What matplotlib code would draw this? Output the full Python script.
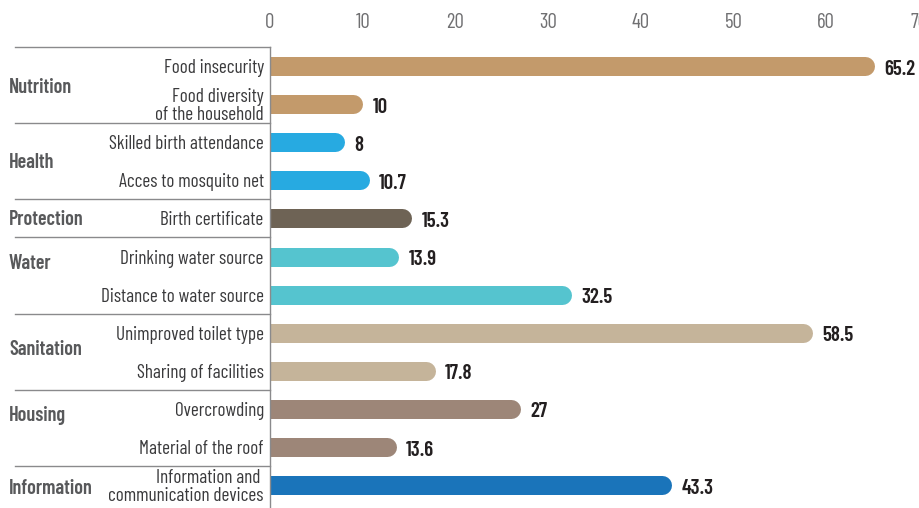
import matplotlib.pyplot as plt
from matplotlib import transforms, font_manager

# fuente condensada si existe
available = set(f.name for f in font_manager.fontManager.ttflist)
candidates = ['Barlow Condensed', 'Roboto Condensed', 'Archivo Narrow', 'PT Sans Narrow',
              'Liberation Sans Narrow', 'Liberation Sans']
font = next(f for f in candidates if f in available)
plt.rcParams['font.family'] = [font, 'DejaVu Sans']

# datos
items = ["Food insecurity", "Food diversity\nof the household",
         "Skilled birth attendance", "Acces to mosquito net",
         "Birth certificate",
         "Drinking water source", "Distance to water source",
         "Unimproved toilet type", "Sharing of facilities",
         "Overcrowding", "Material of the roof",
         "Information and \ncommunication devices"]
values = [65.2, 10, 8, 10.7, 15.3, 13.9, 32.5, 58.5, 17.8, 27, 13.6, 43.3]
value_labels = ["65.2", "10", "8", "10.7", "15.3", "13.9", "32.5", "58.5", "17.8", "27", "13.6", "43.3"]
groups = ["Nutrition", "Health", "Protection", "Water", "Sanitation", "Housing", "Information"]
group_sizes = [2, 2, 1, 2, 2, 2, 1]
group_label_pos = [0.55, 2.52, 4.04, 5.17, 7.43, 9.16, 11.1]
group_colors = ["#C39A6B", "#27AAE1", "#6E6355", "#55C4CF", "#C5B49A", "#9D8678", "#1A74BA"]
ticks = [0, 10, 20, 30, 40, 50, 60, 70]

fig = plt.figure(figsize=(9.2, 5.08), dpi=100)
ax = fig.add_axes([270/920, 0, 649/920, 1 - 47/508])
ax.set_xlim(0, 70)
ax.set_ylim(11.6, -0.5)

bar_px = 19
r = bar_px / 2
shift = transforms.offset_copy(ax.transData, fig=fig, x=-r, y=0, units='dots')

colors = []
for c, n in zip(group_colors, group_sizes):
    colors += [c] * n

for i, (v, c, lab) in enumerate(zip(values, colors, value_labels)):
    ax.plot([0, v], [i, i], color=c, lw=bar_px * 72 / fig.dpi,
            solid_capstyle='round', transform=shift)
    ax.annotate(lab, (v, i), xytext=(10, -3), textcoords='offset pixels',
                ha='left', va='center', fontsize=15, fontweight='semibold',
                color='#231F20')

ax.set_yticks(range(len(items)))
ax.set_yticklabels(items, fontsize=13.8, color='#3A3A3C', linespacing=0.98)
ax.tick_params(axis='y', length=0, pad=4.5)
ax.xaxis.tick_top()
ax.set_xticks(ticks)
ax.set_xticklabels([str(t) for t in ticks], fontsize=15, color='#707072')
ax.tick_params(axis='x', length=0, pad=11)

for s in ['top', 'right', 'bottom']:
    ax.spines[s].set_visible(False)
ax.spines['left'].set_color('#8A8A8C')
ax.spines['left'].set_linewidth(1)

# separadores de grupo
bt = transforms.blended_transform_factory(ax.transAxes, ax.transData)
start = 0
x0 = (15 - 270) / 649
for g, n, yp in zip(groups, group_sizes, group_label_pos):
    ax.plot([x0, 0], [start - 0.5, start - 0.5], color='#8A8A8C', lw=1,
            transform=bt, clip_on=False)
    ax.text(-261 / 649, yp, g, transform=bt, ha='left', va='center',
            fontsize=14.5, fontweight='semibold', color='#58595B')
    start += n

fig.savefig('out.png', dpi=100)
